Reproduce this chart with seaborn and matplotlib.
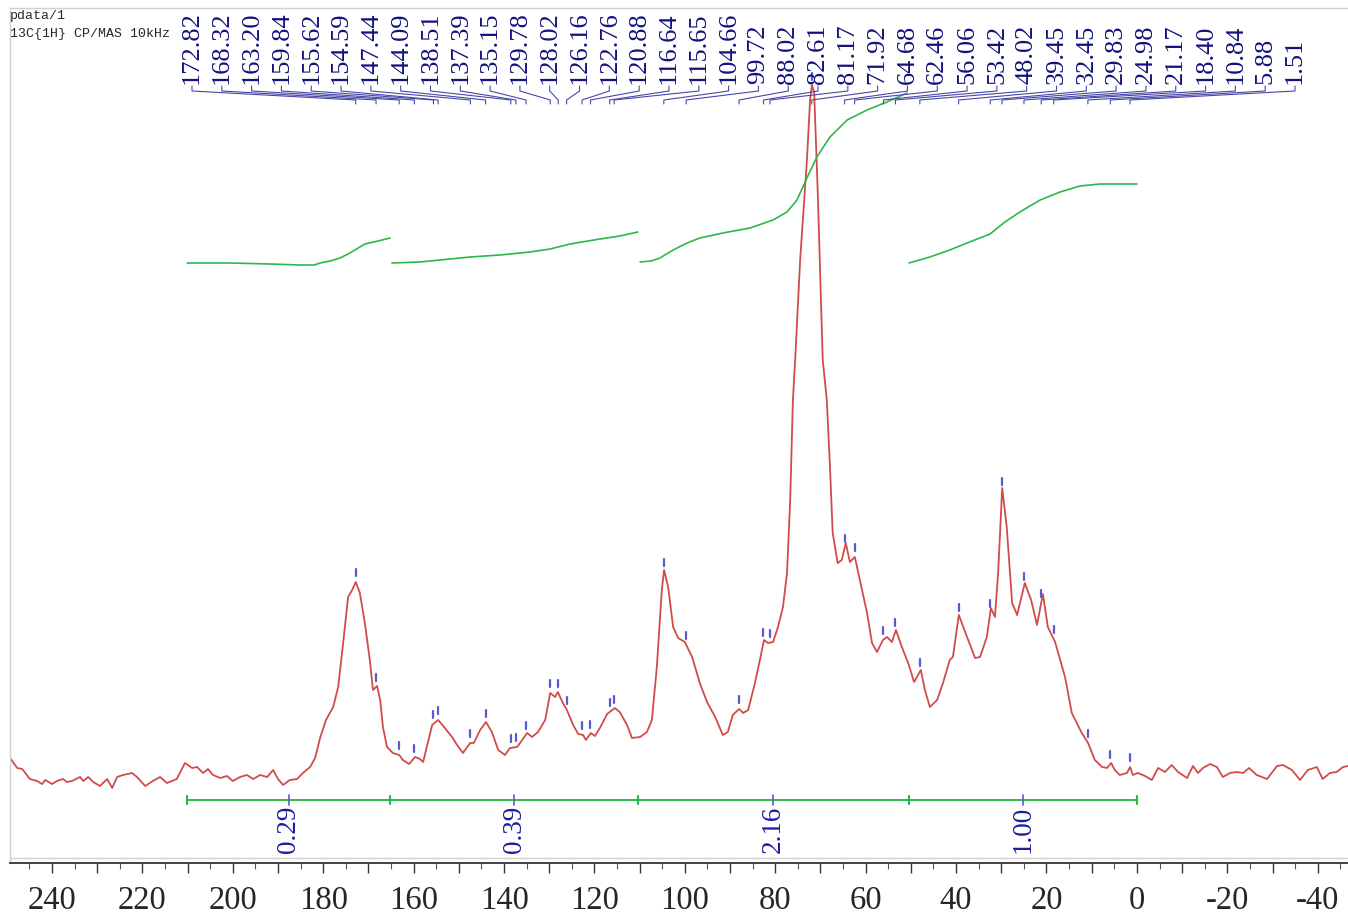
import numpy as np
import pandas as pd
import matplotlib
matplotlib.use("Agg")
import matplotlib.pyplot as plt
import seaborn as sns
from matplotlib.ticker import MultipleLocator, FuncFormatter

# ---------------- data ----------------
ppm = [249.3, 247.7, 246.6, 244.9, 243.3, 242.2, 241.5, 240.0, 238.9, 237.6, 236.7, 235.6,
       233.8, 233.1, 232.0, 230.9, 229.4, 227.8, 226.7, 225.6, 224.3, 222.3, 221.2, 219.4,
       217.7, 216.1, 214.6, 212.4, 210.6, 209.0, 207.9, 206.6, 205.5, 204.4, 202.8, 201.3,
       200.0, 198.4, 196.9, 195.5, 194.0, 192.4, 191.1, 190.0, 188.9, 187.4, 185.8, 184.5,
       182.9, 181.8, 180.7, 179.4, 177.8, 176.7, 175.6, 174.5, 173.6, 172.8, 171.9, 170.8,
       169.7, 169.0, 168.1, 167.4, 166.8, 165.9, 164.6, 163.2, 162.4, 161.0, 159.7, 158.6,
       157.9, 157.1, 155.9, 154.6, 153.1, 151.5, 150.4, 149.1, 147.5, 146.7, 145.3, 144.0,
       142.7, 141.3, 139.8, 138.7, 137.1, 136.0, 134.9, 133.8, 132.5, 130.9, 129.8, 128.7,
       128.1, 127.0, 126.1, 124.7, 123.6, 122.5, 121.9, 120.8, 119.9, 118.8, 117.2, 115.5,
       114.4, 112.8, 111.7, 109.9, 108.4, 107.3, 106.2, 105.1, 104.6, 103.7, 102.6, 101.5,
       100.0, 98.4, 96.7, 95.1, 93.3, 91.6, 90.5, 89.4, 88.0, 87.1, 86.0, 84.5,
       83.4, 82.5, 81.6, 80.5, 79.4, 78.3, 77.4, 76.7, 76.1, 75.6, 74.5, 73.0,
       72.3, 71.9, 71.4, 70.6, 69.5, 68.6, 67.9, 67.3, 66.2, 65.3, 64.4, 63.5,
       62.4, 61.3, 59.7, 58.6, 57.5, 56.2, 55.3, 54.2, 53.3, 52.0, 50.6, 49.3,
       47.8, 46.9, 45.8, 44.2, 42.9, 41.4, 40.7, 39.4, 38.0, 35.8, 34.7, 33.2,
       32.3, 31.4, 30.7, 29.8, 28.8, 27.6, 26.5, 24.8, 23.4, 22.1, 20.8, 19.7,
       18.1, 15.9, 14.4, 12.2, 10.8, 9.3, 7.7, 6.6, 5.7, 4.9, 3.8, 2.2,
       1.5, 0.9, -0.2, -1.8, -3.3, -4.7, -6.2, -7.7, -9.1, -11.1, -12.4, -13.5,
       -14.6, -16.2, -17.7, -19.0, -20.6, -22.1, -23.5, -24.8, -26.5, -28.8, -31.0, -32.3,
       -34.3, -36.1, -37.8, -39.8, -41.1, -42.7, -44.2, -45.6, -46.7]

intensity = [32, 22, 21, 11, 9, 6, 10, 6, 9, 11, 8, 9,
             13, 9, 13, 8, 4, 11, 2, 13, 15, 17, 13, 4,
             9, 13, 7, 11, 27, 22, 23, 17, 21, 15, 12, 14,
             9, 13, 15, 11, 15, 13, 20, 11, 5, 10, 11, 17,
             23, 32, 52, 70, 83, 103, 147, 193, 200, 208, 197, 167,
             130, 100, 104, 90, 63, 43, 37, 35, 30, 26, 33, 31,
             28, 43, 65, 70, 62, 53, 45, 37, 47, 47, 60, 68,
             58, 40, 35, 42, 43, 50, 57, 53, 58, 70, 97, 93,
             98, 87, 80, 65, 56, 55, 50, 57, 54, 62, 76, 82,
             78, 65, 52, 53, 58, 70, 123, 200, 220, 203, 163, 152,
             148, 133, 107, 88, 73, 55, 58, 75, 81, 77, 80, 107,
             130, 150, 147, 148, 163, 183, 217, 290, 390, 430, 530, 630,
             690, 705, 698, 597, 430, 390, 323, 257, 227, 230, 247, 228,
             233, 210, 177, 147, 138, 150, 153, 148, 160, 143, 127, 108,
             120, 100, 83, 90, 107, 130, 133, 175, 158, 132, 133, 153,
             182, 173, 217, 302, 263, 187, 175, 207, 190, 165, 196, 163,
             148, 113, 77, 57, 47, 30, 23, 22, 27, 20, 15, 17,
             23, 15, 17, 14, 10, 22, 18, 25, 18, 12, 24, 17,
             22, 26, 23, 13, 17, 18, 17, 22, 15, 11, 24, 25,
             20, 10, 20, 23, 11, 17, 18, 23, 24]

peak_labels = ["172.82", "168.32", "163.20", "159.84", "155.62", "154.59", "147.44", "144.09",
               "138.51", "137.39", "135.15", "129.78", "128.02", "126.16", "122.76", "120.88",
               "116.64", "115.65", "104.66", "99.72", "88.02", "82.61", "81.17", "71.92",
               "64.68", "62.46", "56.06", "53.42", "48.02", "39.45", "32.45", "29.83",
               "24.98", "21.17", "18.40", "10.84", "5.88", "1.51"]

integral_bounds = [210.1, 165.2, 110.4, 50.4, 0.0]
integral_values = ["0.29", "0.39", "2.16", "1.00"]

int1_ppm = [210.1, 200.6, 191.8, 185.1, 182.0, 180.7, 178.5, 176.3, 174.5, 173.0, 170.8, 167.9, 165.2]
int1_h = [527, 527, 526, 525, 525, 527, 529, 532, 536, 540, 546, 549, 552]
int2_ppm = [164.8, 158.6, 154.2, 147.5, 140.9, 134.3, 129.8, 125.4, 118.8, 114.4, 110.4]
int2_h = [527, 528, 530, 533, 535, 538, 541, 546, 551, 554, 558]
int3_ppm = [109.9, 107.5, 105.5, 102.6, 99.5, 96.7, 91.6, 85.6, 80.5, 77.4, 75.2, 73.0,
            70.8, 67.9, 64.1, 59.7, 55.3, 50.9]
int3_h = [528, 529, 532, 540, 547, 552, 557, 562, 570, 578, 590, 612,
          633, 653, 670, 680, 688, 697]
int4_ppm = [50.4, 45.8, 41.4, 37.0, 32.5, 29.2, 25.9, 21.4, 17.0, 12.6, 8.2, 4.0, 0.0]
int4_h = [527, 533, 540, 548, 556, 568, 578, 590, 598, 604, 606, 606, 606]

header_lines = ["pdata/1", "13C{1H} CP/MAS 10kHz"]

# ---------------- styling ----------------
sns.set_theme(style="white")
plt.rcParams['font.family'] = ['Liberation Serif', 'DejaVu Serif']

W, H = 1348, 914
fig = plt.figure(figsize=(W / 100, H / 100), dpi=100)
ax = fig.add_axes([10 / W, 1 - 863 / H, 1338 / W, 855 / H])

red = "#d24b4b"
green = "#2db84a"
navy = "#12127e"
blue_mark = "#5a5ad0"

df = pd.DataFrame({"ppm": ppm, "intensity": intensity})
sns.lineplot(data=df, x="ppm", y="intensity", sort=False, color=red, lw=1.3, ax=ax)

xl = (249.3, -46.7)
ax.set_xlim(*xl)
ax.set_ylim(-73, 782)
ax.set_xlabel("")
ax.set_ylabel("")
ax.set_yticks([])

# frame
for s in ["top", "left"]:
    ax.spines[s].set_color("#d0d0d0")
    ax.spines[s].set_linewidth(1.0)
ax.spines["right"].set_visible(False)
ax.spines["bottom"].set_color("#333333")
ax.spines["bottom"].set_linewidth(1.3)
ax.axhline(-68, color="#d0d0d0", lw=1.0)

ax.xaxis.set_major_locator(MultipleLocator(10))
ax.xaxis.set_minor_locator(MultipleLocator(5))
ax.xaxis.set_major_formatter(FuncFormatter(lambda v, p: f"{int(round(v))}" if round(v) % 20 == 0 else ""))
ax.tick_params(axis="x", which="major", direction="out", length=7, width=1.0, color="#333333",
               labelsize=23.5, pad=9, bottom=True)
ax.tick_params(axis="x", which="minor", direction="out", length=4, width=0.8, color="#555555", bottom=True)

# integral curves
for xs, ys in [(int1_ppm, int1_h), (int2_ppm, int2_h), (int3_ppm, int3_h), (int4_ppm, int4_h)]:
    ax.plot(xs, ys, color=green, lw=1.2)

# integral bar
ax.plot([integral_bounds[0], integral_bounds[-1]], [-10, -10], color=green, lw=1.4)
for b in integral_bounds:
    ax.plot([b, b], [-14, -6], color=green, lw=1.6)
for i, val in enumerate(integral_values):
    mid = (integral_bounds[i] + integral_bounds[i + 1]) / 2
    ax.plot([mid, mid], [-15, -5], color=blue_mark, lw=1.2)
    ax.text(mid, -16, val, rotation=90, ha="center", va="top", fontsize=19.5, color="#1c1ca0")

# peak markers, labels and connectors
ppm_arr = np.array(ppm)[::-1]
int_arr = np.array(intensity)[::-1]
peak_pos = [float(s) for s in peak_labels]
fracs = np.linspace((192 - 10) / 1338, (1295 - 10) / 1338, len(peak_labels))
for lab, p, f in zip(peak_labels, peak_pos, fracs):
    yi = np.interp(p, ppm_arr, int_arr)
    ax.plot([p, p], [yi + 6, yi + 13], color=blue_mark, lw=1.6)
    lx = xl[0] + f * (xl[1] - xl[0])
    ax.text(lx, 706, lab, rotation=90, ha="center", va="bottom", fontsize=19, color=navy)
    ax.plot([lx, lx, p, p], [704, 699, 690, 686], color="#4848a8", lw=0.8)

# header
fig.text(10 / W, 1 - 16 / H, header_lines[0], fontsize=9.5, family="Liberation Mono", va="center")
fig.text(10 / W, 1 - 34 / H, header_lines[1], fontsize=9.5, family="Liberation Mono", va="center")

fig.savefig("out.png", dpi=100)
